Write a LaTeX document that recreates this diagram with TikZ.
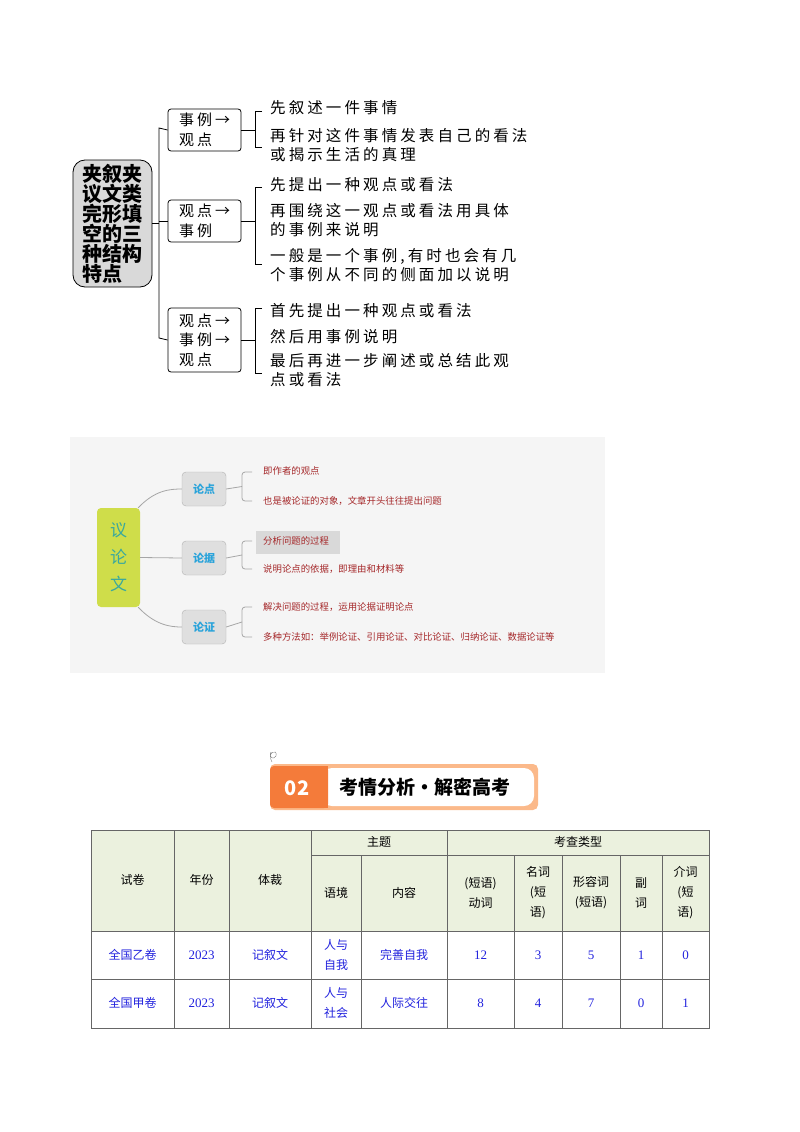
\documentclass[tikz,border=0pt]{standalone}
\usepackage{fontspec}
\setmainfont{Noto Sans CJK SC}
\newfontfamily\wide[LetterSpace=20]{Noto Sans CJK SC}
\newfontfamily\serifnum{Liberation Serif}
\definecolor{hdr}{HTML}{EBF1DE}
\definecolor{dred}{HTML}{A5282A}
\definecolor{tblue}{HTML}{2222DD}
\definecolor{lblue}{HTML}{29A3DA}
\definecolor{teal2}{HTML}{3AA89E}
\definecolor{lime}{HTML}{CFDD4A}
\definecolor{org}{HTML}{F47B3A}
\definecolor{lorg}{HTML}{FBB98A}
\begin{document}
\begin{tikzpicture}[x=1pt,y=-1pt,
  t1/.style={anchor=west,font=\wide\fontsize{15.5}{19.5}\selectfont,inner sep=0pt,align=left},
  bx1/.style={draw,thick,rounded corners=3pt,minimum width=73pt,align=left,font=\wide\fontsize{15}{19.5}\selectfont},
  t2/.style={anchor=west,font=\fontsize{9.4}{11}\selectfont,text=dred,inner sep=1pt},
  bx2/.style={draw=gray!60,fill=gray!25,rounded corners=4pt,minimum width=44pt,minimum height=34pt,font=\bfseries\fontsize{11}{12}\selectfont,text=lblue},
  ln2/.style={gray!70,thick},
  cell/.style={font=\fontsize{12}{20}\selectfont,align=center},
  dat/.style={font=\fontsize{12}{20}\selectfont,align=center,text=tblue}]
\useasboundingbox (0,0) rectangle (800,1132);
% ---------- top diagram
\node[draw,thick,fill=gray!30,rounded corners=12pt,minimum width=79pt,minimum height=127pt,align=left,inner sep=2pt,font=\bfseries\fontsize{20}{20}\selectfont] (c) at (112.5,223.5) {夹叙夹\\议文类\\完形填\\空的三\\种结构\\特点};
\node[bx1,minimum height=42pt] (b1) at (204.5,130) {事例→\\观点};
\node[bx1,minimum height=42pt] (b2) at (204.5,221) {观点→\\事例};
\node[bx1,minimum height=64pt] (b3) at (204.5,340) {观点→\\事例→\\观点};
\coordinate (v1) at (159,128);
\coordinate (v2) at (159,338);
\draw[thick] (c.east) -- (159,223.5);
\draw[thick] (b1.west) -- (v1) -- (v2) -- (b3.west);
\draw[thick] (159,221) -- (b2.west);
\node[t1] (a1) at (270,108) {先叙述一件事情};
\node[t1,anchor=north west] (a2) at (270,128) {再针对这件事情发表自己的看法\\或揭示生活的真理};
\draw[thick] (b1.east) -- (255,130);
\draw[thick] (262,111) -- (255,111) -- (255,147) -- (262,147);
\node[t1] (d1) at (270,185) {先提出一种观点或看法};
\node[t1,anchor=north west] (d2) at (270,203) {再围绕这一观点或看法用具体\\的事例来说明};
\node[t1,anchor=north west] (d3) at (270,248) {一般是一个事例,有时也会有几\\个事例从不同的侧面加以说明};
\draw[thick] (b2.east) -- (255,221);
\draw[thick] (262,187) -- (255,187) -- (255,264) -- (262,264);
\node[t1] (e1) at (270,311) {首先提出一种观点或看法};
\node[t1] (e2) at (270,337) {然后用事例说明};
\node[t1,anchor=north west] (e3) at (270,353) {最后再进一步阐述或总结此观\\点或看法};
\draw[thick] (b3.east) -- (255,340);
\draw[thick] (262,308) -- (255,308) -- (255,373) -- (262,373);
% ---------- middle diagram
\fill[gray!8] (70,437) rectangle (605,673);
\node[fill=lime,rounded corners=4pt,minimum width=43pt,minimum height=99pt,align=center,text=teal2,font=\fontsize{17}{27}\selectfont] (g) at (118.5,557.5) {议\\论\\文};
\node[bx2] (p1) at (204,489) {论点};
\node[bx2] (p2) at (204,558) {论据};
\node[bx2] (p3) at (204,627) {论证};
\draw[ln2] ([xshift=-2pt]g.north east) .. controls (155,490) and (170,489) .. (p1.west);
\draw[ln2] (g.east) -- (p2.west);
\draw[ln2] ([xshift=-2pt]g.south east) .. controls (155,625) and (170,627) .. (p3.west);
\fill[gray!30] (256,531) rectangle (340,554);
\node[t2] (q1) at (262,471) {即作者的观点};
\node[t2] (q2) at (262,501) {也是被论证的对象，文章开头往往提出问题};
\node[t2] (q3) at (262,541) {分析问题的过程};
\node[t2] (q4) at (262,569) {说明论点的依据，即理由和材料等};
\node[t2] (q5) at (262,607) {解决问题的过程，运用论据证明论点};
\node[t2] (q6) at (262,637) {多种方法如：举例论证、引用论证、对比论证、归纳论证、数据论证等};
\foreach \p/\a/\b in {p1/472/501,p2/541/569,p3/607/637}{
  \draw[ln2] (\p.east) -- (242,{(\a+\b)/2});
  \draw[ln2,rounded corners=3pt] (252,\a) -- (242,\a) -- (242,\b) -- (252,\b);
}
% ---------- banner
\fill[lorg,rounded corners=5pt] (270,764) rectangle (538,810);
\fill[white,rounded corners=10pt] (322,768) rectangle (534,806);
\fill[org,rounded corners=4pt] (270,766) rectangle (328,808);
\fill[org] (318,766) rectangle (328,808);
\node[text=white,font=\bfseries\fontsize{20}{20}\selectfont] (n02) at (297,788) {02};
\node[font=\bfseries\fontsize{19}{19}\selectfont] (ttl) at (425,787) {考情分析·解密高考};
\draw[gray] (272,762) .. controls (266,752) and (278,748) .. (276,756) .. controls (274,760) and (268,758) .. (271,752);
% ---------- table
\fill[hdr] (91,830) rectangle (709,931);
\draw[thick,gray!80!black] (91,830) rectangle (709,1028);
\foreach \x in {174,229,311,447}{\draw[gray!80!black] (\x,830) -- (\x,1028);}
\foreach \x in {361,514,562,620,662}{\draw[gray!80!black] (\x,855) -- (\x,1028);}
\draw[gray!80!black] (311,855) -- (709,855);
\draw[gray!80!black] (91,931) -- (709,931);
\draw[gray!80!black] (91,979) -- (709,979);
\node[cell] (h1) at (132.5,880) {试卷};
\node[cell] (h2) at (201.5,880) {年份};
\node[cell] (h3) at (270,880) {体裁};
\node[cell] (h4) at (379,842) {主题};
\node[cell] (h5) at (578,842) {考查类型};
\node[cell] (h6) at (336,893) {语境};
\node[cell] (h7) at (404,893) {内容};
\node[cell] (h8) at (480.5,893) {(短语)\\动词};
\node[cell] (h9) at (538,893) {名词\\(短\\语)};
\node[cell] (h10) at (591,893) {形容词\\(短语)};
\node[cell] (h11) at (641,893) {副\\词};
\node[cell] (h12) at (685.5,893) {介词\\(短\\语)};
\foreach \y/\a/\c/\d/\e/\n/\m/\k/\f/\g [count=\i] in {955/全国乙卷/人与\\自我/完善自我/12/3/5/1/0/0,1003/全国甲卷/人与\\社会/人际交往/8/4/7/0/1/1}{
  \node[dat] (r\i a) at (132.5,\y) {\a};
  \node[dat,font=\serifnum\fontsize{13}{20}\selectfont] (r\i b) at (201.5,\y) {2023};
  \node[dat] (r\i c) at (270,\y) {记叙文};
  \node[dat] (r\i d) at (336,\y) {\c};
  \node[dat] (r\i e) at (404,\y) {\d};
  \node[dat,font=\serifnum\fontsize{13}{20}\selectfont] (r\i f) at (480.5,\y) {\e};
  \node[dat,font=\serifnum\fontsize{13}{20}\selectfont] (r\i g) at (538,\y) {\n};
  \node[dat,font=\serifnum\fontsize{13}{20}\selectfont] (r\i h) at (591,\y) {\m};
  \node[dat,font=\serifnum\fontsize{13}{20}\selectfont] (r\i k) at (641,\y) {\k};
  \node[dat,font=\serifnum\fontsize{13}{20}\selectfont] (r\i l) at (685.5,\y) {\f};
}
\end{tikzpicture}
\end{document}
